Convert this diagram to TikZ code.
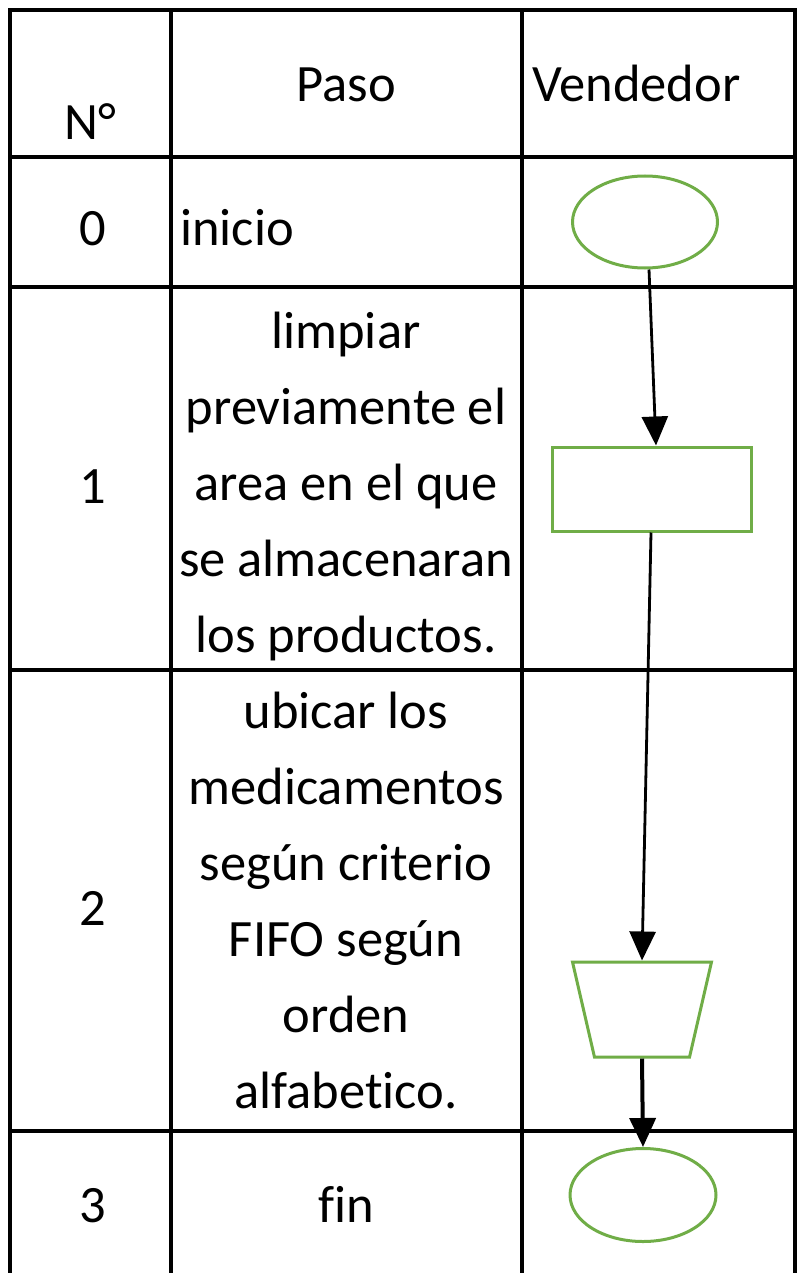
\documentclass[tikz,border=0pt]{standalone}
\usepackage{fontspec}
\setmainfont{Carlito}[Ligatures={NoCommon}]
\usetikzlibrary{shapes.geometric,arrows.meta}
\definecolor{shapegreen}{RGB}{112,173,71}
\begin{document}
\begin{tikzpicture}[x=1pt,y=1pt,
  grid/.style={line width=4pt,line cap=rect},
  txt/.style={font=\fontsize{52.5}{76}\selectfont,inner sep=0pt,anchor=base},
  para/.style={txt,align=center},
  flow/.style={draw=shapegreen,line width=3pt,fill=white,inner sep=0pt},
  arr/.style={line width=2.8pt,-{Triangle[length=29pt,width=26pt]}}]
\useasboundingbox (0,0) rectangle (809,-1273);
% table grid
\foreach \yy in {10,157,287,670,1131} \draw[grid] (10,-\yy) -- (795,-\yy);
\foreach \xx in {10,171,522,795} \draw[grid] (\xx,-10) -- (\xx,-1273);
% header
\node[txt] (hn) at (90,-140) {N°};
\node[txt] (hp) at (346,-102) {Paso};
\node[txt,anchor=base west] (hv) at (532,-102) {Vendedor};
% rows
\node[txt] (n0) at (93,-245) {0};
\node[txt,anchor=base west] (p0) at (180,-245) {inicio};
\node[txt] (n1) at (93,-503) {1};
\node[para,anchor=north] (p1) at (346,-312) {limpiar\\previamente el\\area en el que\\se almacenaran\\los productos.};
\node[txt] (n2) at (93,-925) {2};
\node[para,anchor=north] (p2) at (346,-692) {ubicar los\\medicamentos\\según criterio\\FIFO según\\orden\\alfabetico.};
\node[txt] (n3) at (93,-1222) {3};
\node[txt] (p3) at (346,-1222) {fin};
% flow shapes
\node[flow,ellipse,minimum width=145pt,minimum height=92pt] (e0) at (645,-222) {};
\node[flow,rectangle,minimum width=199pt,minimum height=84pt] (r1) at (652,-489) {};
\node[flow,trapezium,trapezium stretches=true,shape border rotate=180,
  trapezium left angle=77,trapezium right angle=77,inner sep=2pt,
  minimum width=139pt,minimum height=95pt] (t2) at (642,-1009.5) {};
\node[flow,ellipse,minimum width=146pt,minimum height=93pt] (e3) at (643,-1195) {};
% connectors
\draw[arr] ([xshift=4pt]e0.south) -- ([xshift=4pt]r1.north);
\draw[arr] ([xshift=-1pt]r1.south) -- (t2.north);
\draw[arr,line width=4pt] (t2.south) -- (e3.north);
\end{tikzpicture}
\end{document}
